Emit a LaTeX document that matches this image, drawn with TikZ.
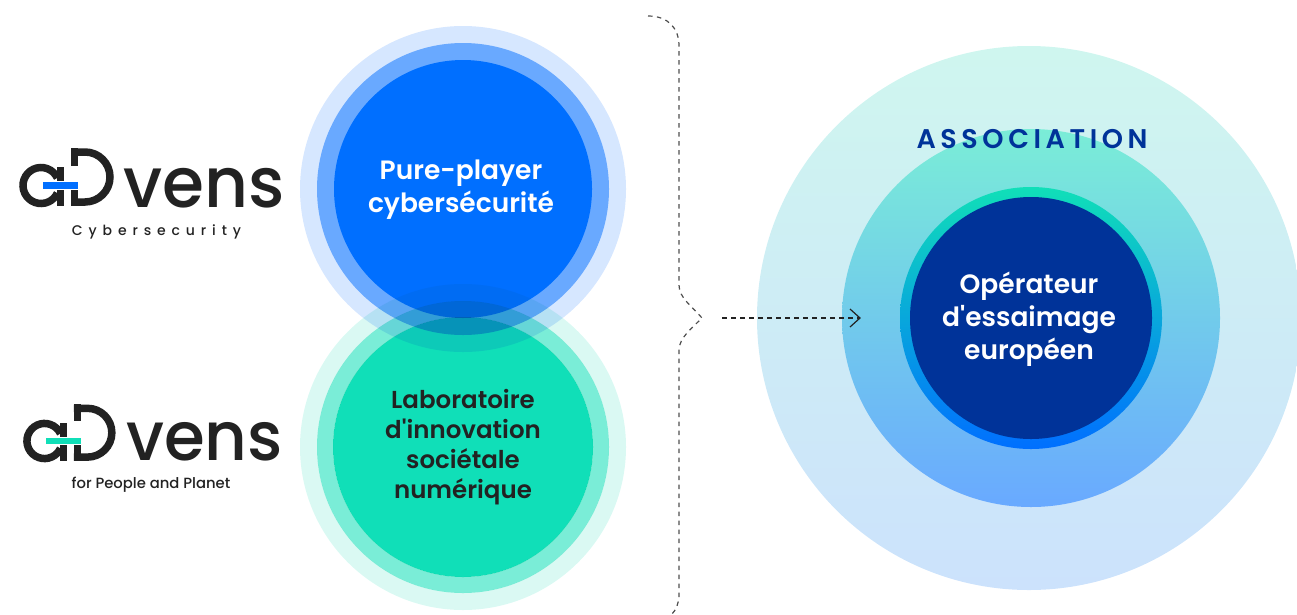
\documentclass[tikz,border=0pt]{standalone}
\usepackage{fontspec}
\newfontfamily\popm{Poppins}[UprightFont=* Medium,BoldFont=* SemiBold]
\usetikzlibrary{arrows.meta}
\definecolor{blueA}{HTML}{006FFF}
\definecolor{blueB}{HTML}{69A9FF}
\definecolor{blueC}{HTML}{D6E7FF}
\definecolor{greenA}{HTML}{10DFB8}
\definecolor{greenB}{HTML}{7AEDD7}
\definecolor{greenC}{HTML}{DAF9F3}
\definecolor{navy}{HTML}{003399}
\definecolor{ink}{HTML}{222222}
\definecolor{outerT}{HTML}{CFF6EF}
\definecolor{outerB}{HTML}{CCE2FC}
\tikzset{
  lbl/.style={align=center,font=\popm\bfseries\fontsize{26.5}{33}\selectfont,inner sep=0pt},
  logoline/.style={line width=7.5pt,draw=ink},
  bracket/.style={draw=ink!80,line width=1.2pt,dash pattern=on 4.5pt off 4.5pt},
}
\newcommand{\logomark}[1]{%
  \draw[logoline] (0,0) ++(-25:18) arc[start angle=-25,end angle=-335,radius=18];
  \fill[ink] (16,-18.5) rectangle (23.3,-4.5);
  \fill[ink] (16,4.5) rectangle (23.3,20.5);
  \fill[ink] (30,-37.5) rectangle (37.3,-20);
  \fill[ink] (30,4.5) rectangle (37.3,20.2);
  \draw[logoline] (30,-33.5) -- (44,-33.5) arc[start angle=-90,end angle=90,radius=25] -- (30,16.5);
  \fill[#1] (2,-3.5) rectangle (37,3.5);
}
\begin{document}
\begin{tikzpicture}[x=1pt,y=-1pt]
\useasboundingbox (0,0) rectangle (1297,614);
\fill[blueC] (463,189) circle[radius=163];
\fill[blueB] (463,189) circle[radius=146];
\fill[blueA] (463,189) circle[radius=129];
\begin{scope}[blend mode=multiply]
\fill[greenA] (463,447) circle[radius=130];
\fill[greenB,even odd rule] (463,447) circle[radius=146] (463,447) circle[radius=130];
\fill[greenC,even odd rule] (463,447) circle[radius=163] (463,447) circle[radius=146];
\end{scope}
\node[lbl,text=white] (t1) at (461,190) {Pure-player\\cybersécurité};
\node[lbl,text=ink,font=\popm\bfseries\fontsize{24.5}{30}\selectfont] (t2) at (463,447) {Laboratoire\\d'innovation\\sociétale\\numérique};
\begin{scope}
\clip (0,0) rectangle (1297,614);
\shade[top color=outerT,bottom color=outerB] (1029,318) circle[radius=272];
\end{scope}
\shade[top color=greenB,bottom color=blueB] (1031,318) circle[radius=189];
\shade[top color=greenA,bottom color=blueA] (1031,318) circle[radius=131];
\fill[navy] (1031,318) circle[radius=121];
\node[lbl,text=white] (t3) at (1029,319) {Opérateur\\d'essaimage\\européen};
\node[inner sep=0pt,text=navy,font=\popm\bfseries\fontsize{27}{30}\selectfont] (assoc) at (1032,139) {\addfontfeature{LetterSpace=17}ASSOCIATION};
\coordinate (b0) at (648,16);
\coordinate (b1) at (679,46);
\coordinate (b2) at (679,285);
\coordinate (b3) at (702,318);
\coordinate (b4) at (679,350);
\coordinate (b5) at (679,595);
\coordinate (b6) at (672,614);
\draw[bracket] (b0) .. controls (668,16) and (679,28) .. (b1) -- (b2) .. controls (679,298) and (692,306) .. (b3) .. controls (692,328) and (679,338) .. (b4) -- (b5) .. controls (679,603) and (676,610) .. (b6);
\coordinate (a0) at (722,318);
\coordinate (a1) at (860,318);
\draw[ink,line width=1.1pt,dash pattern=on 5pt off 4pt] (a0) -- (a1);
\draw[ink,line width=1.2pt] (850,309) -- (a1) -- (850,327);
% logos
\begin{scope}[shift={(41,185.5)}]
\logomark{blueA}
\end{scope}
\begin{scope}[shift={(44.5,441)},scale=0.976]
\logomark{greenA}
\end{scope}
\node[anchor=base west,inner sep=0pt,text=ink,font=\popm\fontsize{70}{70}\selectfont] (v1) at (123,207) {\addfontfeature{FakeStretch=0.97}vens};
\node[inner sep=0pt,text=ink,font=\popm\fontsize{14}{18}\selectfont] (c1) at (156.5,232) {\addfontfeature{LetterSpace=42}Cybersecurity};
\node[anchor=base west,inner sep=0pt,text=ink,font=\popm\fontsize{68}{68}\selectfont] (v2) at (126,460) {\addfontfeature{FakeStretch=0.97}vens};
\node[inner sep=0pt,text=ink,font=\popm\fontsize{14.8}{18}\selectfont] (c2) at (151,485) {for People and Planet};
\end{tikzpicture}
\end{document}
